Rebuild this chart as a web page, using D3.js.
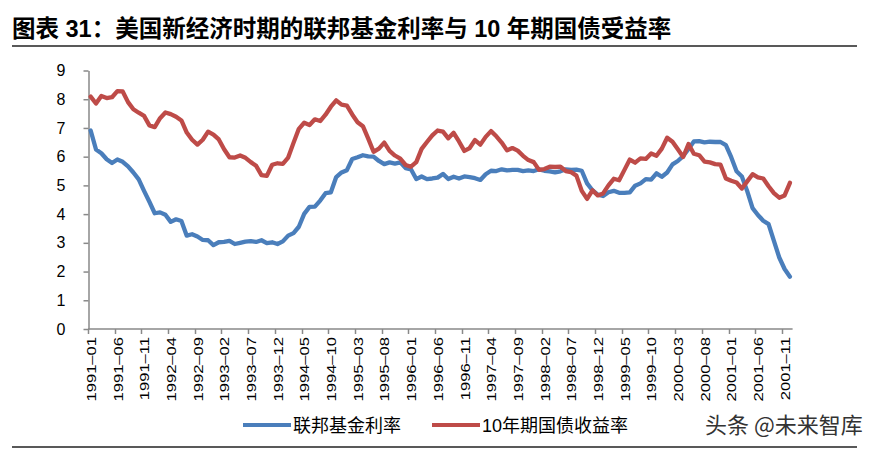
<!DOCTYPE html>
<html><head><meta charset="utf-8">
<script src="https://cdn.jsdelivr.net/npm/d3@7"></script>
<style>body{margin:0;background:#fff}svg{display:block}</style>
</head><body><svg id="c" width="872" height="450"></svg>
<script>
const title = "图表 31：美国新经济时期的联邦基金利率与 10 年期国债受益率";
const seriesNames = ["联邦基金利率", "10年期国债收益率"];
const watermark = "头条 @未来智库";
const startYear = 1991, nMonths = 132;
const categories = d3.range(nMonths).map(i => `${startYear + Math.floor(i / 12)}-${String(i % 12 + 1).padStart(2, "0")}`);
const fedFunds = [
  6.91, 6.25, 6.12, 5.91, 5.78, 5.90, 5.82, 5.66, 5.45, 5.21, 4.81, 4.43,
  4.03, 4.06, 3.98, 3.73, 3.82, 3.76, 3.25, 3.30, 3.22, 3.10, 3.09, 2.92,
  3.02, 3.03, 3.07, 2.96, 3.00, 3.04, 3.06, 3.03, 3.09, 2.99, 3.02, 2.96,
  3.05, 3.25, 3.34, 3.56, 4.01, 4.25, 4.26, 4.47, 4.73, 4.76, 5.29, 5.45,
  5.53, 5.92, 5.98, 6.05, 6.01, 6.00, 5.85, 5.74, 5.80, 5.76, 5.80, 5.60,
  5.56, 5.22, 5.31, 5.22, 5.24, 5.27, 5.40, 5.22, 5.30, 5.24, 5.31, 5.29,
  5.25, 5.19, 5.39, 5.51, 5.50, 5.56, 5.52, 5.54, 5.54, 5.50, 5.52, 5.50,
  5.56, 5.51, 5.49, 5.45, 5.49, 5.56, 5.54, 5.55, 5.51, 5.07, 4.83, 4.68,
  4.63, 4.76, 4.81, 4.74, 4.74, 4.76, 4.99, 5.07, 5.22, 5.20, 5.42, 5.30,
  5.45, 5.73, 5.85, 6.02, 6.27, 6.53, 6.54, 6.50, 6.52, 6.51, 6.51, 6.40,
  5.98, 5.49, 5.31, 4.80, 4.21, 3.97, 3.77, 3.65, 3.07, 2.49, 2.09, 1.82
];
const tenYear = [
  8.09, 7.85, 8.11, 8.04, 8.07, 8.28, 8.27, 7.90, 7.65, 7.53, 7.42, 7.09,
  7.03, 7.34, 7.54, 7.48, 7.39, 7.26, 6.84, 6.59, 6.42, 6.59, 6.87, 6.77,
  6.60, 6.26, 5.98, 5.97, 6.04, 5.96, 5.81, 5.68, 5.36, 5.33, 5.72, 5.77,
  5.75, 5.97, 6.48, 6.97, 7.18, 7.10, 7.30, 7.24, 7.46, 7.74, 7.96, 7.81,
  7.78, 7.47, 7.20, 7.06, 6.63, 6.17, 6.28, 6.49, 6.20, 6.04, 5.93, 5.71,
  5.65, 5.81, 6.27, 6.51, 6.74, 6.91, 6.87, 6.64, 6.83, 6.53, 6.20, 6.30,
  6.58, 6.42, 6.69, 6.89, 6.71, 6.49, 6.22, 6.30, 6.21, 6.03, 5.88, 5.81,
  5.54, 5.57, 5.65, 5.64, 5.65, 5.50, 5.46, 5.34, 4.81, 4.53, 4.83, 4.65,
  4.72, 5.00, 5.23, 5.18, 5.54, 5.90, 5.79, 5.94, 5.92, 6.11, 6.03, 6.28,
  6.66, 6.52, 6.26, 5.99, 6.44, 6.10, 6.05, 5.83, 5.80, 5.74, 5.72, 5.24,
  5.16, 5.10, 4.89, 5.14, 5.39, 5.28, 5.24, 4.97, 4.73, 4.57, 4.65, 5.09
];
const yTicks = [0, 1, 2, 3, 4, 5, 6, 7, 8, 9];
const xTickLabels = ["1991-01","1991-06","1991-11","1992-04","1992-09","1993-02","1993-07","1993-12","1994-05","1994-10","1995-03","1995-08","1996-01","1996-06","1996-11","1997-04","1997-09","1998-02","1998-07","1998-12","1999-05","1999-10","2000-03","2000-08","2001-01","2001-06","2001-11"];
const colors = ["#4a7ebb", "#be4b48"];

const svg = d3.select("#c");
const font = "'Liberation Sans', Arial, 'Noto Sans CJK SC', sans-serif";
const axisColor = "#898989";

// Title
svg.append("text").attr("x", 12).attr("y", 37)
  .attr("font-family", font).attr("font-weight", "bold").attr("font-size", 23.5)
  .attr("fill", "#000").text(title);
svg.append("line").attr("x1", 12).attr("x2", 857).attr("y1", 46).attr("y2", 46)
  .attr("stroke", "#222").attr("stroke-width", 1.5);

const x = d3.scaleBand().domain(categories).range([88, 792.6]).padding(0);
const y = d3.scaleLinear().domain([0, 9]).range([329, 70.5]);

// Y axis
const yAxis = svg.append("g").attr("transform", "translate(88.5,0)")
  .call(d3.axisLeft(y).tickValues(yTicks).tickSize(5).tickSizeOuter(0).tickPadding(18).tickFormat(d3.format("d")));
yAxis.select(".domain").attr("stroke", axisColor).attr("stroke-width", 1.5);
yAxis.selectAll(".tick line").attr("stroke", axisColor).attr("stroke-width", 1.5);
yAxis.selectAll(".tick text").attr("font-family", font).attr("font-size", 16).attr("fill", "#000");

// X axis
const xg = svg.append("g");
xg.append("line").attr("x1", x.range()[0]).attr("x2", x.range()[1])
  .attr("y1", y(0)).attr("y2", y(0)).attr("stroke", axisColor).attr("stroke-width", 1.5);
xg.selectAll("line.tk").data(xTickLabels).join("line").attr("class", "tk")
  .attr("x1", d => Math.round(x(d)) + 0.5).attr("x2", d => Math.round(x(d)) + 0.5)
  .attr("y1", y(0)).attr("y2", y(0) + 5).attr("stroke", axisColor).attr("stroke-width", 1.5);
xg.selectAll("text").data(xTickLabels).join("text")
  .attr("transform", d => `translate(${x(d) + x.bandwidth() / 2 + 1},${y(0) + 8}) rotate(-90) scale(1.38,1)`)
  .attr("text-anchor", "end").attr("dy", "0.35em")
  .attr("font-family", font).attr("font-size", 12).attr("fill", "#000")
  .text(d => d.replace("-", "–"));

// Lines
const line = d3.line().x((d, i) => x(categories[i]) + x.bandwidth() / 2).y(d => y(d)).curve(d3.curveLinear);
[fedFunds, tenYear].forEach((s, k) => {
  svg.append("path").datum(s).attr("d", line).attr("fill", "none")
    .attr("stroke", colors[k]).attr("stroke-width", 4.3).attr("stroke-linejoin", "round").attr("stroke-linecap", "round");
});

// Legend
const legendX = [243, 432];
seriesNames.forEach((n, k) => {
  svg.append("line").attr("x1", legendX[k]).attr("x2", legendX[k] + 48).attr("y1", 425).attr("y2", 425)
    .attr("stroke", colors[k]).attr("stroke-width", 4);
  svg.append("text").attr("x", legendX[k] + 50).attr("y", 431.5)
    .attr("font-family", font).attr("font-size", 18).attr("fill", "#000").text(n);
});

// Watermark and bottom rule
svg.append("text").attr("x", 705).attr("y", 433)
  .attr("font-family", "'Noto Sans CJK SC', sans-serif").attr("font-size", 22).attr("fill", "#333").text(watermark);
svg.append("line").attr("x1", 12).attr("x2", 857).attr("y1", 447).attr("y2", 447)
  .attr("stroke", "#222").attr("stroke-width", 1.5);
</script></body></html>
